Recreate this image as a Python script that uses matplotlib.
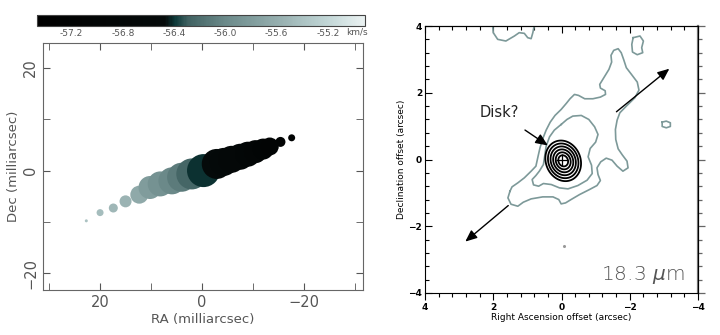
import numpy as np
import matplotlib
matplotlib.use("Agg")
import matplotlib.pyplot as plt
from matplotlib.colors import LinearSegmentedColormap, Normalize
from matplotlib.cm import ScalarMappable
from matplotlib.ticker import FixedLocator, MultipleLocator

# ---------------- left panel data (maser spots) ----------------
spot_ra = [22.7, 20.0, 17.4, 15.0, 12.3, 10.2, 8.2, 5.9, 4.0, 2.0, -0.3,
           -2.9, -4.3, -5.8, -7.5, -9.0, -10.5, -12.0, -13.3, -15.4, -17.6]
spot_dec = [-9.8, -8.2, -7.3, -6.0, -4.7, -3.3, -2.6, -2.0, -1.3, -0.65, 0.0,
            1.3, 1.7, 2.2, 2.7, 3.2, 3.7, 4.2, 4.7, 5.6, 6.4]
spot_vel = [-55.4, -55.45, -55.5, -55.55, -55.65, -55.8, -55.9, -56.0, -56.1,
            -56.25, -56.4, -56.5, -56.6, -56.65, -56.7, -56.8, -56.9, -57.0, -57.05,
            -57.1, -57.2]
spot_diam = [3, 7, 9, 12, 18, 23, 25, 27, 29, 31, 33, 30, 28, 27, 26, 25, 23, 21, 18, 10, 7]

vel_min, vel_max = -57.47, -54.91
cbar_ticks = [-57.2, -56.8, -56.4, -56.0, -55.6, -55.2]
cbar_ticklabels = ["-57.2", "-56.8", "-56.4", "-56.0", "-55.6", "-55.2"]

# ---------------- right panel data (18.3 um contours) ----------------
outer_x = [1.51, 1.57, 1.48, 1.28, 1.12, 0.89, 0.55, 0.25, 0.08, 0.01, -0.12, -0.28,
           -0.53, -0.82, -1.04, -1.14, -1.07, -1.04, -1.15, -1.31, -1.48, -1.63, -1.80,
           -1.95, -1.92, -1.78, -1.66, -1.59, -1.58, -1.63, -1.71, -1.90, -2.15, -2.27,
           -2.22, -2.05, -1.90, -1.82, -1.75, -1.66, -1.53, -1.45, -1.47, -1.39, -1.24,
           -1.12, -1.14, -1.28, -1.29, -1.14, -0.92, -0.68, -0.50, -0.38, -0.25, -0.14,
           0.01, 0.19, 0.33, 0.45, 0.55, 0.63, 0.69, 0.75, 0.89, 1.09, 1.28, 1.45, 1.51]
outer_y = [-0.95, -1.15, -1.34, -1.40, -1.28, -1.18, -1.12, -1.12, -1.20, -1.33, -1.30, -1.20,
           -1.05, -0.90, -0.78, -0.63, -0.45, -0.25, -0.07, 0.04, -0.02, -0.20, -0.35,
           -0.25, -0.05, 0.14, 0.32, 0.60, 0.90, 1.18, 1.40, 1.60, 1.85, 2.08,
           2.32, 2.55, 2.75, 3.00, 3.20, 3.32, 3.27, 3.12, 2.92, 2.70, 2.45,
           2.25, 2.14, 2.06, 1.95, 1.87, 1.82, 1.82, 1.92, 1.95, 1.82, 1.68,
           1.50, 1.32, 1.12, 0.88, 0.62, 0.35, 0.08, -0.20, -0.35, -0.55, -0.70, -0.82, -0.95]

inner_x = [0.01, 0.21, 0.35, 0.45, 0.49, 0.53, 0.65, 0.75, 0.86, 0.82, 0.67, 0.53, 0.30,
           0.06, -0.19, -0.48, -0.75, -0.90, -0.88, -0.78, -0.84, -1.00, -1.07, -0.97,
           -0.80, -0.58, -0.33, -0.16, 0.01]
inner_y = [1.05, 0.88, 0.68, 0.40, 0.12, -0.15, -0.35, -0.48, -0.60, -0.76, -0.80, -0.72, -0.75,
           -0.85, -0.88, -0.78, -0.62, -0.42, -0.17, 0.08, 0.33, 0.52, 0.75, 0.98,
           1.20, 1.32, 1.30, 1.20, 1.05]

top_x = [2.02, 2.00, 1.87, 1.63, 1.38, 1.24, 1.09, 0.99, 0.89, 0.84, 0.79]
top_y = [4.05, 3.80, 3.60, 3.55, 3.70, 3.80, 3.78, 3.65, 3.62, 3.80, 4.05]

blob1_x = [-2.10, -2.30, -2.40, -2.35, -2.38, -2.22, -2.08, -2.06, -2.10]
blob1_y = [3.65, 3.70, 3.55, 3.35, 3.20, 3.14, 3.22, 3.45, 3.65]

blob2_x = [-2.95, -3.07, -3.19, -3.19, -3.07, -2.95, -2.95]
blob2_y = [1.12, 1.15, 1.10, 0.99, 0.95, 0.99, 1.12]

core_center = (-0.05, -0.04)
core_axes = (1.0, 0.82)         # relative extent along / across the major axis
core_tilt_deg = 20
core_levels = [0.17, 0.26, 0.35, 0.44, 0.53, 0.62]

jet_arrows = [((-1.61, 1.43), (-3.16, 2.72)), ((1.56, -1.38), (2.82, -2.46))]
disk_label_xy = (1.82, 1.40)
disk_arrow_tip = (0.40, 0.42)

# ---------------- figure ----------------
fig = plt.figure(figsize=(7.2, 3.35), dpi=100)
grey_txt = "#555555"

cmap = LinearSegmentedColormap.from_list(
    "maser",
    [(0.0, (0, 0, 0)), (0.39, (0.02, 0.04, 0.04)), (0.42, (0.05, 0.22, 0.22)),
     (0.46, (0.25, 0.38, 0.38)), (0.574, (0.42, 0.54, 0.54)), (0.73, (0.58, 0.68, 0.68)),
     (0.887, (0.76, 0.84, 0.84)), (1.0, (0.92, 0.95, 0.95))])
norm = Normalize(vel_min, vel_max)

ax1 = fig.add_axes([43 / 720, 1 - 290 / 335, 320 / 720, 247 / 335])
sizes = [(d * 0.72) ** 2 for d in spot_diam]
ax1.scatter(spot_ra, spot_dec, s=sizes, c=spot_vel, cmap=cmap, norm=norm,
            edgecolors="none", zorder=3)
ax1.set_xlim(31.2, -31.6)
ax1.set_ylim(-23.3, 24.9)
ax1.xaxis.set_major_locator(FixedLocator([20, 0, -20]))
ax1.yaxis.set_major_locator(FixedLocator([20, 0, -20]))
ax1.xaxis.set_minor_locator(MultipleLocator(10))
ax1.yaxis.set_minor_locator(MultipleLocator(10))
ax1.tick_params(which="both", direction="in", top=True, right=True, colors=grey_txt,
                labelsize=10.5, labelcolor=grey_txt, length=5)
for lab in ax1.get_yticklabels():
    lab.set_rotation(90)
    lab.set_va("center")
for sp in ax1.spines.values():
    sp.set_color("#666666")
ax1.set_xlabel("RA (milliarcsec)", color=grey_txt, fontsize=9.5, labelpad=2)
ax1.set_ylabel("Dec (milliarcsec)", color=grey_txt, fontsize=9.5, labelpad=2)

cax = fig.add_axes([37 / 720, 1 - 26 / 335, 328 / 720, 11 / 335])
cb = fig.colorbar(ScalarMappable(norm=norm, cmap=cmap), cax=cax, orientation="horizontal")
cb.set_ticks(cbar_ticks)
cb.set_ticklabels(cbar_ticklabels)
cax.tick_params(length=0, labelsize=6.5, colors=grey_txt, pad=2)
cb.outline.set_edgecolor("#444444")
cb.outline.set_linewidth(0.8)
fig.text(357 / 720, 1 - 32 / 335, "km/s", fontsize=6.5, color=grey_txt, ha="center", va="center")

# ---------------- right panel ----------------
ax2 = fig.add_axes([425 / 720, 1 - 293 / 335, 273 / 720, 267 / 335])
ax2.set_xlim(4, -4)
ax2.set_ylim(-4, 4)
gcol = "#7d9999"
for xs, ys in [(outer_x, outer_y), (inner_x, inner_y), (top_x, top_y),
               (blob1_x, blob1_y), (blob2_x, blob2_y)]:
    ax2.plot(xs, ys, color=gcol, lw=1.2, solid_joinstyle="round")

gx = np.linspace(-1.2, 1.2, 300)
GX, GY = np.meshgrid(gx, gx)
dx = GX - core_center[0]
dy = GY - core_center[1]
t = np.deg2rad(core_tilt_deg)
u = dx * np.sin(t) + dy * np.cos(t)
v = dx * np.cos(t) - dy * np.sin(t)
R = np.sqrt((u / core_axes[0]) ** 2 + (v / core_axes[1]) ** 2)
ax2.contour(GX, GY, R, levels=core_levels, colors="black", linewidths=1.3)
ax2.plot([0], [0], marker="+", color="black", ms=8, mew=0.9)
ax2.plot([-0.07], [-2.58], marker="o", color="#999999", ms=1.2)

for (x0, y0), (x1, y1) in jet_arrows:
    ax2.annotate("", xy=(x1, y1), xytext=(x0, y0),
                 arrowprops=dict(arrowstyle="-|>,head_length=0.7,head_width=0.3",
                                 color="black", lw=1.0, shrinkA=0, shrinkB=0))
ax2.annotate("Disk?", xy=disk_arrow_tip, xytext=disk_label_xy, fontsize=10.5,
             ha="center", va="center", color="#222222",
             arrowprops=dict(arrowstyle="-|>,head_length=0.7,head_width=0.3",
                             color="black", lw=1.0, shrinkA=9, shrinkB=0))
ax2.text(-3.6, -3.45, "18.3 $\\mu$m", fontsize=14.5, color="#555555", ha="right",
         va="center", fontweight="light")

ax2.xaxis.set_major_locator(FixedLocator([4, 2, 0, -2, -4]))
ax2.yaxis.set_major_locator(FixedLocator([-4, -2, 0, 2, 4]))
ax2.xaxis.set_minor_locator(MultipleLocator(0.4))
ax2.yaxis.set_minor_locator(MultipleLocator(0.4))
ax2.tick_params(which="both", labelsize=6.5, labelcolor="black", width=0.8, pad=2)
ax2.tick_params(which="major", length=5)
ax2.tick_params(which="minor", length=3)
ax2.tick_params(axis="x", which="both", direction="out")
ax2.tick_params(axis="y", which="both", direction="in")
for lab in ax2.get_xticklabels() + ax2.get_yticklabels():
    lab.set_fontweight("bold")

top_ax = ax2.secondary_xaxis("top")
top_ax.xaxis.set_major_locator(FixedLocator([4, 2, 0, -2, -4]))
top_ax.xaxis.set_minor_locator(MultipleLocator(0.4))
top_ax.tick_params(which="both", direction="in", labeltop=False, width=0.8)
top_ax.tick_params(which="major", length=5)
top_ax.tick_params(which="minor", length=3)

right_ax = ax2.secondary_yaxis("right")
right_ax.yaxis.set_major_locator(FixedLocator([-4, -2, 0, 2, 4]))
right_ax.yaxis.set_minor_locator(MultipleLocator(0.4))
right_ax.tick_params(which="both", direction="out", labelright=False, width=0.9,
                     colors="#666666")
right_ax.tick_params(which="major", length=5)
right_ax.tick_params(which="minor", length=3)
right_ax.spines["right"].set_color("#777777")
right_ax.spines["right"].set_linewidth(1.6)

ax2.set_xlabel("Right Ascension offset (arcsec)", fontsize=6.5, labelpad=1)
ax2.set_ylabel("Declination offset (arcsec)", fontsize=6.5, labelpad=2)

fig.savefig("out.png", dpi=100)
